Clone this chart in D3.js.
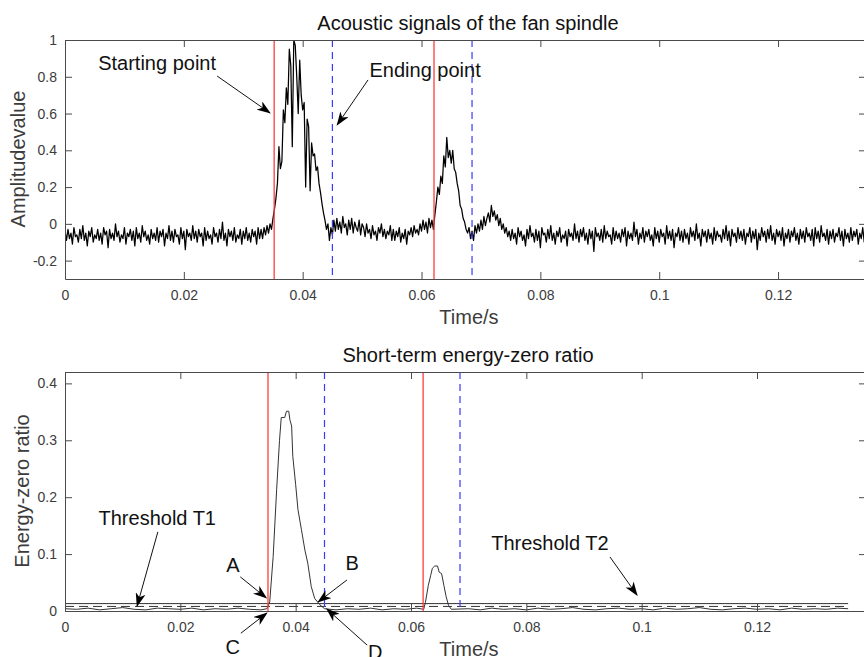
<!DOCTYPE html>
<html>
<head>
<meta charset="utf-8">
<script src="https://cdn.jsdelivr.net/npm/d3@7"></script>
<style>
  body { margin: 0; background: #fff; }
  text { font-family: "Liberation Sans", Arial, Helvetica, sans-serif; }
</style>
</head>
<body>
<div id="chart"></div>
<script>
// sampled acoustic signal, one value every sigStep seconds
const sigStep = 0.00025;
const signal = [
  -.04,-.09,-.03,-.08,-.05,-.11,-.02,-.07,-.06,-.10,-.03,-.08,
  -.01,-.09,-.05,-.12,-.04,-.07,-.02,-.10,-.06,-.08,-.03,-.09,
  -.05,-.11,-.02,-.06,-.04,-.13,-.03,-.08,-.05,-.09,.00,-.07,
  -.04,-.10,-.06,-.08,-.02,-.11,-.05,-.07,-.03,-.09,-.04,-.12,
  -.02,-.08,-.05,-.10,-.01,-.07,-.04,-.09,-.06,-.11,-.03,-.08,
  -.05,-.09,-.02,-.10,-.04,-.07,-.03,-.12,-.05,-.08,-.01,-.09,
  -.04,-.10,-.03,-.07,-.06,-.11,-.02,-.08,-.04,-.14,-.03,-.07,
  -.05,-.09,-.01,-.08,-.04,-.10,-.03,-.07,-.05,-.12,-.02,-.09,
  -.04,-.08,-.06,-.11,-.02,-.07,-.05,-.10,-.03,-.08,.01,-.09,
  -.05,-.12,-.03,-.07,-.04,-.09,-.02,-.10,-.06,-.08,-.03,-.11,
  -.04,-.08,-.02,-.09,-.05,-.10,-.03,-.07,-.04,-.11,-.02,-.08,
  // rise of the first burst
  -.03,-.08,-.02,-.06,-.01,-.05,.00,-.03,.03,.08,
  .14,.22,.42,.30,.34,.62,.55,.74,.65,.95,.86,.42,1.0,.97,.80,.60,.89,.70,.62,.66,
  .20,.57,.53,.18,.44,.37,.38,.29,.31,.22,.17,.11,.06,.02,-.03,.00,-.09,-.02,-.06,
  // between the bursts
  .02,-.04,.03,-.03,.01,-.05,.04,-.02,.00,-.06,.02,-.03,.03,-.05,.01,-.02,-.04,.02,-.06,.00,
  -.02,-.07,.00,-.05,-.03,-.08,-.01,-.06,-.04,-.09,-.02,-.05,.00,-.07,-.03,-.08,-.04,-.06,-.01,-.09,
  -.03,-.09,-.04,-.07,-.02,-.10,-.05,-.08,-.03,-.11,-.04,-.06,
  -.02,-.07,-.01,-.05,-.03,-.06,.00,-.04,.02,-.03,.01,-.05,.03,-.02,.02,-.03,
  // second burst
  .05,.12,.20,.16,.26,.22,.37,.31,.47,.36,.40,.33,.40,.30,.28,.22,.18,.10,.08,.03,.01,
  -.03,-.05,-.02,-.08,-.04,-.09,
  -.01,-.05,.00,-.04,.02,-.03,.04,-.01,.03,.06,.01,.10,.04,.07,.02,.05,-.01,.03,-.03,.00,
  -.05,-.02,-.07,-.04,-.09,
  // tail
  -.03,-.08,-.05,-.11,-.02,-.07,-.04,-.09,-.06,-.12,-.03,-.08,
  -.01,-.07,-.05,-.10,-.03,-.09,-.04,-.13,-.02,-.06,-.05,-.10,
  -.03,-.08,-.01,-.09,-.05,-.11,-.04,-.07,-.02,-.10,-.06,-.08,
  -.04,-.12,-.03,-.07,-.05,-.09,.00,-.08,-.04,-.10,-.03,-.07,
  -.02,-.09,-.05,-.11,-.03,-.08,-.04,-.15,-.02,-.07,-.05,-.09,
  -.03,-.10,-.01,-.08,-.04,-.07,-.06,-.11,-.02,-.09,-.04,-.08,
  -.05,-.10,-.03,-.07,-.02,-.12,-.04,-.08,-.05,-.09,.01,-.07,
  -.03,-.11,-.05,-.08,-.02,-.10,-.04,-.07,-.03,-.09,-.06,-.12,
  -.02,-.08,-.04,-.10,-.03,-.07,-.05,-.11,-.01,-.08,-.04,-.09,
  -.03,-.13,-.05,-.07,-.02,-.09,-.04,-.10,-.03,-.08,-.05,-.11,
  -.02,-.07,-.04,-.09,.00,-.08,-.05,-.12,-.03,-.07,-.04,-.10,
  -.03,-.08,-.05,-.11,-.02,-.09,-.04,-.07,-.06,-.10,-.03,-.08,
  -.01,-.09,-.04,-.12,-.03,-.07,-.05,-.10,-.02,-.08,-.04,-.09,
  -.03,-.11,-.05,-.07,-.02,-.10,-.04,-.08,-.03,-.14,-.05,-.09,
  -.02,-.07,-.04,-.10,-.03,-.08,-.01,-.09,-.05,-.11,-.03,-.07,
  -.04,-.09,-.02,-.12,-.05,-.08,-.03,-.10,-.04,-.07,-.02,-.09,
  -.05,-.11,-.03,-.08,-.04,-.10,-.02,-.07,-.05,-.09,-.03,-.12,
  -.02,-.08,-.04,-.10,-.01,-.07,-.05,-.09,-.03,-.11,-.04,-.08,
  -.03,-.10,-.05,-.07,-.02,-.09,-.04,-.12,-.03,-.08,-.05,-.10,
  -.02,-.09,-.04,-.07,-.03,-.11,-.05,-.08,-.02,-.10,-.04,-.09,
  -.03,-.08,-.05
];

// short-term energy-zero ratio
const energyTime = [
  0, .002, .004, .006, .008, .010, .012, .014, .016, .018, .020, .022, .024, .026, .028, .030, .032, .034, .0350,
  .0355, .0361, .0367, .0372, .0375, .0381, .0384, .0388, .0390, .0393, .0395, .0400, .0404, .0410, .0416,
  .0421, .0427, .0433, .0442, .0450,
  .047, .049, .051, .053, .055, .057, .059, .061, .0622,
  .0625, .0630, .0634, .0637, .0641, .0646, .0649, .0653, .0657, .0661, .0665, .0670,
  .070, .072, .074, .076, .078, .080, .082, .084, .086, .088, .090, .092, .094, .096, .098, .100,
  .102, .104, .106, .108, .110, .112, .114, .116, .118, .120, .122, .124, .126, .128, .130, .132, .134, .1358
];
const energyValue = [
  .004, .003, .005, .002, .004, .006, .003, .002, .005, .004, .003, .005, .002, .004, .003, .005, .003, .002, .004,
  .016, .096, .213, .300, .340, .340, .351, .351, .336, .325, .272, .222, .178, .143, .107,
  .084, .043, .022, .011, .004,
  .002, .004, .003, .005, .002, .004, .003, .005, .003,
  .015, .045, .062, .075, .079, .079, .068, .066, .045, .025, .010, .003,
  .004, .002, .005, .003, .004, .002, .005, .003, .004, .006, .003, .002, .004, .005, .003, .004,
  .002, .005, .003, .004, .006, .003, .002, .004, .005, .003, .004, .002, .005, .003, .004, .003, .005, .004
];

const thresholds = [0.013, 0.008];        // T1 solid, T2 dashed
const thresholdEnd = 0.1358;
const startPoints = [0.0352, 0.0621];
const endPoints = [0.0450, 0.0685];

const xTicks = [0, 0.02, 0.04, 0.06, 0.08, 0.1, 0.12];
const topYTicks = [-0.2, 0, 0.2, 0.4, 0.6, 0.8, 1];
const bottomYTicks = [0, 0.1, 0.2, 0.3, 0.4];

const topNotes = [
  { text: "Starting point", tx: 0.0155, ty: 0.875, from: [0.0256, 0.804], to: [0.0345, 0.603] },
  { text: "Ending point", tx: 0.0606, ty: 0.837, from: [0.0510, 0.783], to: [0.0458, 0.538] }
];
const bottomNotes = [
  { text: "Threshold T1", tx: 0.0160, ty: 0.164, from: [0.0161, 0.139], to: [0.0125, 0.0088] },
  { text: "A", tx: 0.0291, ty: 0.081, from: [0.0304, 0.060], to: [0.0349, 0.023] },
  { text: "C", tx: 0.0291, ty: -0.063, from: [0.0305, -0.039], to: [0.0350, -0.0035] },
  { text: "B", tx: 0.0498, ty: 0.0845, from: [0.0489, 0.0546], to: [0.0439, 0.0158] },
  { text: "D", tx: 0.0538, ty: -0.072, from: [0.0524, -0.060], to: [0.0454, 0.0035] },
  { text: "Threshold T2", tx: 0.0841, ty: 0.120, from: [0.0945, 0.095], to: [0.0992, 0.028] }
];

const W = 864, H = 657;
const svg = d3.select("#chart").append("svg")
  .attr("width", W).attr("height", H);

// arrow head like matlab's annotation arrow
svg.append("defs").append("marker")
  .attr("id", "head")
  .attr("markerUnits", "userSpaceOnUse")
  .attr("viewBox", "0 0 14 10")
  .attr("refX", 13).attr("refY", 5)
  .attr("markerWidth", 14).attr("markerHeight", 10)
  .attr("orient", "auto")
  .append("path")
  .attr("d", "M0,0 L14,5 L0,10 L4,5 Z")
  .attr("fill", "#000");

const axisColor = "#4a4a4a";

function frame(g, x, y, left, right, top, bottom, yTicks) {
  const fmt = d => String(d);
  g.append("g").attr("transform", `translate(0,${bottom})`)
    .call(d3.axisBottom(x).tickValues(xTicks).tickFormat(fmt).tickSizeInner(-7).tickSizeOuter(0).tickPadding(11));
  g.append("g").attr("transform", `translate(0,${top})`)
    .call(d3.axisTop(x).tickValues(xTicks).tickFormat("").tickSizeInner(-7).tickSizeOuter(0));
  g.append("g").attr("transform", `translate(${left},0)`)
    .call(d3.axisLeft(y).tickValues(yTicks).tickFormat(fmt).tickSizeInner(-7).tickSizeOuter(0).tickPadding(8));
  g.append("g").attr("transform", `translate(${right},0)`)
    .call(d3.axisRight(y).tickValues(yTicks).tickFormat("").tickSizeInner(-7).tickSizeOuter(0));
  g.selectAll(".domain, .tick line").attr("stroke", axisColor);
  g.selectAll(".tick text").attr("fill", "#3c3c3c").style("font-size", "14px")
    .style("font-family", '"Liberation Sans", Arial, sans-serif');
}

function markers(g, x, top, bottom) {
  g.selectAll(null).data(startPoints).enter().append("line")
    .attr("x1", d => x(d)).attr("x2", d => x(d))
    .attr("y1", top).attr("y2", bottom)
    .attr("stroke", "#ff3b3b").attr("stroke-width", 1.3);
  g.selectAll(null).data(endPoints).enter().append("line")
    .attr("x1", d => x(d)).attr("x2", d => x(d))
    .attr("y1", top).attr("y2", bottom)
    .attr("stroke", "#3a3aff").attr("stroke-width", 1.2)
    .attr("stroke-dasharray", "7,5");
}

function notes(g, x, y, list) {
  g.selectAll(null).data(list).enter().append("line")
    .attr("x1", d => x(d.from[0])).attr("y1", d => y(d.from[1]))
    .attr("x2", d => x(d.to[0])).attr("y2", d => y(d.to[1]))
    .attr("stroke", "#111").attr("stroke-width", 1)
    .attr("marker-end", "url(#head)");
  g.selectAll(null).data(list).enter().append("text")
    .attr("x", d => x(d.tx)).attr("y", d => y(d.ty))
    .attr("dy", "0.35em")
    .attr("text-anchor", "middle")
    .style("font-size", "20px")
    .attr("fill", "#111")
    .text(d => d.text);
}

// ---------- top panel: acoustic signal ----------
const L = 65, R = 866;
const xTop = d3.scaleLinear().domain([0, 0.1348]).range([L, R]);
const yTop = d3.scaleLinear().domain([-0.3, 1]).range([279, 40]);
const gTop = svg.append("g");

gTop.append("clipPath").attr("id", "clipTop").append("rect")
  .attr("x", L).attr("y", 40).attr("width", R - L).attr("height", 239);

gTop.append("path")
  .datum(signal)
  .attr("clip-path", "url(#clipTop)")
  .attr("fill", "none")
  .attr("stroke", "#000")
  .attr("stroke-width", 1.25)
  .attr("stroke-linejoin", "round")
  .attr("d", d3.line().x((d, i) => xTop(i * sigStep)).y(d => yTop(d)));

markers(gTop, xTop, 40, 279);
frame(gTop, xTop, yTop, L, R, 40, 279, topYTicks);
notes(gTop, xTop, yTop, topNotes);

gTop.append("text").attr("x", 468).attr("y", 30).attr("text-anchor", "middle")
  .style("font-size", "20px").attr("fill", "#111").text("Acoustic signals of the fan spindle");
gTop.append("text").attr("x", 469).attr("y", 324).attr("text-anchor", "middle")
  .style("font-size", "20px").attr("fill", "#3c3c3c").text("Time/s");
gTop.append("text").attr("transform", "translate(25,159) rotate(-90)").attr("text-anchor", "middle")
  .style("font-size", "20px").attr("fill", "#3c3c3c").text("Amplitudevalue");

// ---------- bottom panel: energy-zero ratio ----------
const xBot = d3.scaleLinear().domain([0, 0.1389]).range([L, R]);
const yBot = d3.scaleLinear().domain([0, 0.42]).range([611, 372]);
const gBot = svg.append("g");

gBot.selectAll(null).data(thresholds).enter().append("line")
  .attr("x1", xBot(0)).attr("x2", xBot(thresholdEnd))
  .attr("y1", d => yBot(d)).attr("y2", d => yBot(d))
  .attr("stroke", "#333").attr("stroke-width", 1)
  .attr("stroke-dasharray", (d, i) => i === 0 ? null : "9,5");

gBot.append("path")
  .datum(energyTime.map((t, i) => [t, energyValue[i]]))
  .attr("fill", "none")
  .attr("stroke", "#333")
  .attr("stroke-width", 1)
  .attr("d", d3.line().x(d => xBot(d[0])).y(d => yBot(d[1])));

markers(gBot, xBot, 372, 611);
frame(gBot, xBot, yBot, L, R, 372, 611, bottomYTicks);
notes(gBot, xBot, yBot, bottomNotes);

gBot.append("text").attr("x", 468).attr("y", 362).attr("text-anchor", "middle")
  .style("font-size", "20px").attr("fill", "#111").text("Short-term energy-zero ratio");
gBot.append("text").attr("x", 469).attr("y", 656).attr("text-anchor", "middle")
  .style("font-size", "20px").attr("fill", "#3c3c3c").text("Time/s");
gBot.append("text").attr("transform", "translate(29,491) rotate(-90)").attr("text-anchor", "middle")
  .style("font-size", "20px").attr("fill", "#3c3c3c").text("Energy-zero ratio");
</script>
</body>
</html>
